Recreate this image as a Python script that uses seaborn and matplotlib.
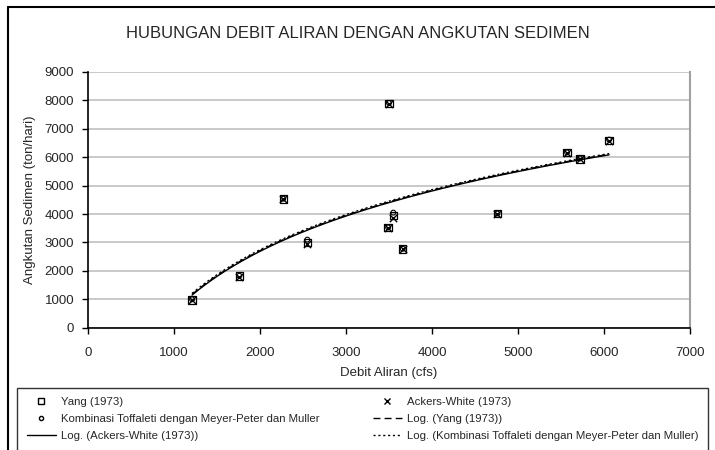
import numpy as np
import pandas as pd
import matplotlib
matplotlib.use("Agg")
import matplotlib.pyplot as plt
import seaborn as sns
from matplotlib.lines import Line2D

# Data
debit = [1210, 1760, 2270, 2550, 3500, 3490, 3550, 3660, 4760, 5570, 5720, 6060]
yang = [970, 1820, 4530, 3000, 7900, 3520, 3950, 2770, 4010, 6160, 5940, 6590]
ackers = [960, 1800, 4520, 2950, 7890, 3510, 3850, 2760, 4000, 6150, 5950, 6560]
toffaleti = [1000, 1830, 4540, 3100, 7910, 3530, 4050, 2780, 4020, 6170, 5960, 6620]

series_names = ["Yang (1973)", "Ackers-White (1973)",
                "Kombinasi Toffaleti dengan Meyer-Peter dan Muller"]

sns.set_style("white")
plt.rcParams['font.family'] = ['Liberation Sans', 'DejaVu Sans']

fig = plt.figure(figsize=(7.15, 4.5), dpi=100)
ax = fig.add_axes([88 / 715, 1 - 327.7 / 450, (690 - 88) / 715, (327.7 - 72) / 450])

df = pd.DataFrame({"x": debit, "yang": yang, "ackers": ackers, "toff": toffaleti})

# scatter points
sns.scatterplot(data=df, x="x", y="yang", marker="s", s=28, facecolor="none",
                edgecolor="black", linewidth=0.9, ax=ax, zorder=3)
sns.scatterplot(data=df, x="x", y="ackers", marker="x", s=28, color="black",
                linewidth=1.0, ax=ax, zorder=3)
sns.scatterplot(data=df, x="x", y="toff", marker="o", s=12, facecolor="none",
                edgecolor="black", linewidth=0.8, ax=ax, zorder=3)

# logarithmic trend lines
xs = np.linspace(min(debit), max(debit), 200)
styles = {"yang": (0, (5, 3)), "ackers": "-", "toff": (0, (1.5, 2))}
for col in ["yang", "ackers", "toff"]:
    a, b = np.polyfit(np.log(df["x"]), df[col], 1)
    trend = pd.DataFrame({"x": xs, "y": a * np.log(xs) + b})
    sns.lineplot(data=trend, x="x", y="y", color="black", linewidth=1.0,
                 linestyle=styles[col], ax=ax, zorder=2)

ax.set_xlim(0, 7000)
ax.set_ylim(0, 9000)
ax.set_xticks(range(0, 7001, 1000))
ax.set_yticks(range(0, 9001, 1000))
ax.yaxis.grid(True, color="#c0c0c0", linewidth=1.2)
ax.set_axisbelow(True)
ax.tick_params(axis="both", direction="out", length=4, width=1, labelsize=9.5,
               color="black", bottom=True, left=True, pad=6)
ax.tick_params(axis="x", pad=10)
for side in ["left", "bottom"]:
    ax.spines[side].set_color("black")
    ax.spines[side].set_linewidth(1.2)
ax.spines["right"].set_color("#a0a0a0")
ax.spines["right"].set_linewidth(1.5)
ax.spines["top"].set_visible(False)

ax.set_xlabel("Debit Aliran (cfs)", fontsize=9.5, labelpad=6)
ax.set_ylabel("Angkutan Sedimen (ton/hari)", fontsize=9.5, labelpad=6)
fig.text(0.5, 1 - 33 / 450, "HUBUNGAN DEBIT ALIRAN DENGAN ANGKUTAN SEDIMEN",
         ha="center", va="center", fontsize=12)

# outer chart frame
fig.add_artist(Line2D([8 / 715, 8 / 715], [0, 1 - 7 / 450], color="black", lw=1.5))
fig.add_artist(Line2D([8 / 715, 1], [1 - 7 / 450, 1 - 7 / 450], color="black", lw=1.5))

# legend
h_yang = Line2D([], [], marker="s", markersize=5, markerfacecolor="none",
                markeredgecolor="black", linestyle="none")
h_ack = Line2D([], [], marker="x", markersize=5, color="black", linestyle="none")
h_tof = Line2D([], [], marker="o", markersize=3, markerfacecolor="none",
               markeredgecolor="black", linestyle="none")
h_lyang = Line2D([], [], color="black", lw=1, linestyle=styles["yang"])
h_lack = Line2D([], [], color="black", lw=1, linestyle="-")
h_ltof = Line2D([], [], color="black", lw=1, linestyle=styles["toff"])
handles = [h_yang, h_tof, h_lack, h_ack, h_lyang, h_ltof]
labels = [series_names[0], series_names[2], "Log. (" + series_names[1] + ")",
          series_names[1], "Log. (" + series_names[0] + ")",
          "Log. (" + series_names[2] + ")"]
leg = fig.legend(handles, labels, ncol=2, loc="upper left",
                 bbox_to_anchor=(17 / 715, 1 - 392 / 450, (708 - 17) / 715, 0.01),
                 mode="expand", fontsize=8.2, frameon=True, fancybox=False,
                 handlelength=2.6, handletextpad=0.4, borderpad=0.85,
                 labelspacing=0.6, borderaxespad=0)
leg.get_frame().set_edgecolor("black")
leg.get_frame().set_linewidth(1.0)

fig.savefig("out.png", dpi=100)
